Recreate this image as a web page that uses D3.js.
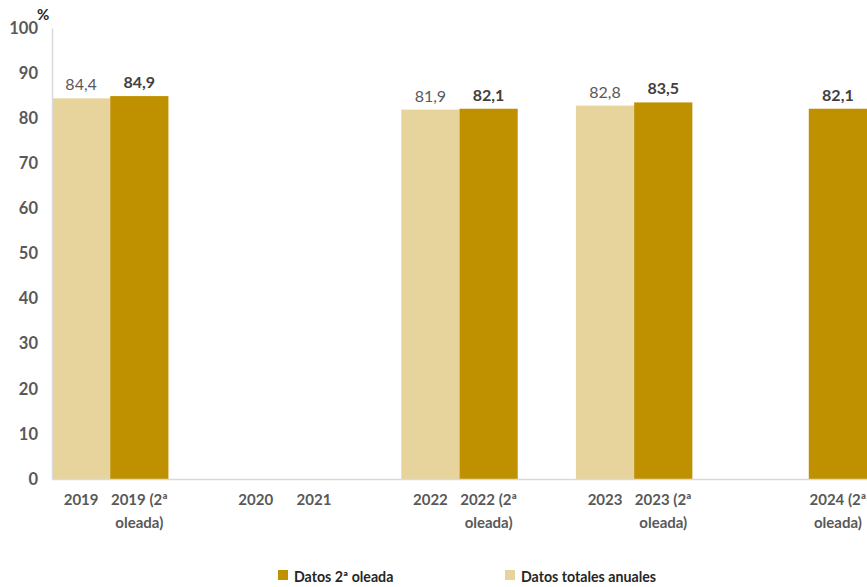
<!DOCTYPE html>
<html><head><meta charset="utf-8">
<script src="https://cdn.jsdelivr.net/npm/d3@7"></script>
<style>body{margin:0;background:#fff}svg{display:block}</style>
</head><body>
<svg id="c" width="867" height="587"></svg>
<script>
const categories = ["2019","2019 (2ª oleada)","","2020","2021","","2022","2022 (2ª oleada)","","2023","2023 (2ª oleada)","","","2024 (2ª oleada)"];
const seriesNames = ["Datos 2ª oleada","Datos totales anuales"];
// series per category: "t" = totales anuales, "o" = 2ª oleada, null = no data
const seriesOf = ["t","o",null,null,null,null,"t","o",null,"t","o",null,null,"o"];
const values = [84.4,84.9,null,null,null,null,81.9,82.1,null,82.8,83.5,null,null,82.1];
const yTicks = [0,10,20,30,40,50,60,70,80,90,100];
const colors = {o:"#BF9000", t:"#E6D49C"};

const svg = d3.select("#c");
const font = "Lato, 'Open Sans', sans-serif";
const m = {l:52, r:867, t:28, b:479};
const x = d3.scaleBand().domain(d3.range(categories.length)).range([m.l, m.r]).padding(0);
const y = d3.scaleLinear().domain([0,100]).range([m.b, m.t]);

const data = categories.map((c,i)=>({i, c, s: seriesOf[i], v: values[i]}));

// bars
svg.append("g").selectAll("rect").data(data.filter(d=>d.v!=null)).join("rect")
  .attr("x", d=>x(d.i)).attr("width", x.bandwidth())
  .attr("y", d=>y(d.v)).attr("height", d=>y(0)-y(d.v))
  .attr("fill", d=>colors[d.s]);

// value labels
svg.append("g").selectAll("text").data(data.filter(d=>d.v!=null)).join("text")
  .attr("x", d=>x(d.i)+x.bandwidth()/2).attr("y", d=>y(d.v)-8)
  .attr("text-anchor","middle")
  .attr("font-family", font).attr("font-size", 16)
  .attr("font-weight", d=>d.s==="o"?"bold":"normal")
  .attr("fill", d=>d.s==="o"?"#404040":"#595959")
  .text(d=>d3.format(".1f")(d.v).replace(".",","));

// y axis
const yAxis = d3.axisLeft(y).tickValues(yTicks).tickSize(0).tickPadding(14);
const gy = svg.append("g").attr("transform",`translate(${m.l},0)`).call(yAxis);
gy.select(".domain").attr("stroke","#D9D9D9").attr("stroke-width",1.5);
gy.selectAll("text").attr("font-family",font).attr("font-size",16.5).attr("font-weight","bold").attr("fill","#595959");

// x axis
const xAxis = d3.axisBottom(x).tickSize(0).tickPadding(0).tickFormat(i=>categories[i]);
const gx = svg.append("g").attr("transform",`translate(0,${m.b})`).call(xAxis);
gx.select(".domain").attr("stroke","#D9D9D9").attr("stroke-width",1.5);
gx.selectAll("text").each(function(i){
  const t = d3.select(this);
  const label = categories[i];
  t.text(null).attr("font-family",font).attr("font-size",15).attr("font-weight","bold").attr("fill","#595959").attr("dy",null).attr("y",26);
  if(!label) return;
  const k = label.indexOf(" oleada");
  const lines = k>=0 ? [label.slice(0,k), label.slice(k+1)] : [label];
  lines.forEach((ln,j)=>t.append("tspan").attr("x",0).attr("y",26+j*23).text(ln));
});

// % label
svg.append("text").attr("x",37).attr("y",20).attr("font-family",font).attr("font-size",15).attr("font-weight","bold").attr("fill","#262626").text("%");

// legend
const leg = [{k:"o", name:seriesNames[0], x:278},{k:"t", name:seriesNames[1], x:505}];
const lg = svg.append("g");
leg.forEach(d=>{
  lg.append("rect").attr("x",d.x).attr("y",570).attr("width",10).attr("height",10).attr("fill",colors[d.k]);
  lg.append("text").attr("x",d.x+16).attr("y",582).attr("font-family",font).attr("font-size",14.2).attr("font-weight","bold").attr("fill","#262626").text(d.name);
});
</script>
</body></html>
